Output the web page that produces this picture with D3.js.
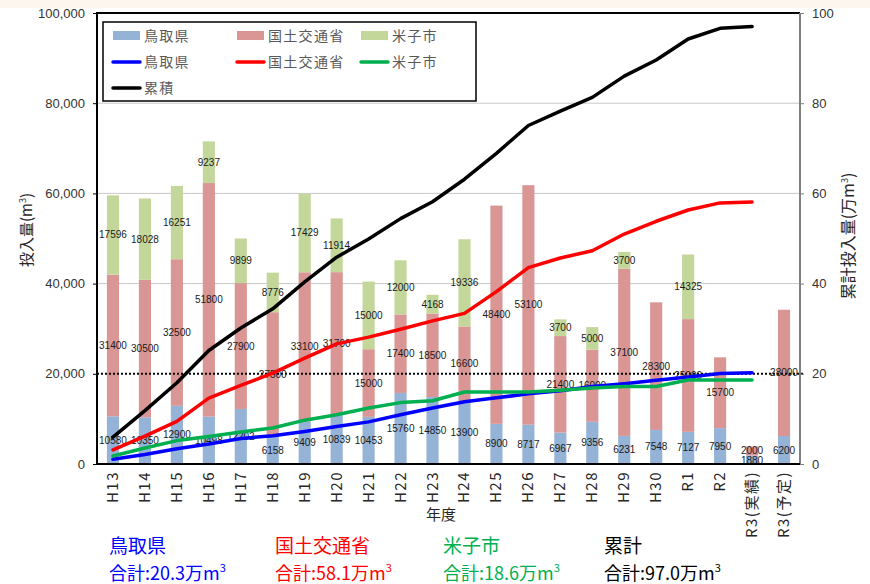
<!DOCTYPE html>
<html>
<head>
<meta charset="utf-8">
<script src="https://cdn.jsdelivr.net/npm/d3@7"></script>
<style>
  body { margin: 0; background: #fff; }
  text { font-family: "Liberation Sans", "Noto Sans CJK JP", sans-serif; }
  .jp { font-family: "Noto Sans CJK JP", sans-serif; }
</style>
</head>
<body>
<div id="chart"></div>
<script>
// years
var categories = ["H13","H14","H15","H16","H17","H18","H19","H20","H21","H22","H23","H24",
                  "H25","H26","H27","H28","H29","H30","R1","R2","R3(実績)","R3(予定)"];
// yearly volumes (m3)
var tottori = [10580,10350,12900,10498,12202,6158,9409,10839,10453,15760,14850,13900,
               8900,8717,6967,9356,6231,7548,7127,7950,1880,6200];
var mlit    = [31400,30500,32500,51800,27900,27500,33100,31700,15000,17400,18500,16600,
               48400,53100,21400,16000,37100,28300,25000,15700,2000,28000];
var yonago  = [17596,18028,16251,9237,9899,8776,17429,11914,15000,12000,4168,19336,
               0,0,3700,5000,3700,0,14325,0,0,0];
var leftTicks = [0,20000,40000,60000,80000,100000];
var rightTicks = [0,20,40,60,80,100];
var lastActual = "R3(実績)";   // cumulative lines stop here

var W = 870, H = 584;
var pL = 97, pR = 800, pT = 13, pB = 464;

var svg = d3.select("#chart").append("svg").attr("width", W).attr("height", H);

svg.append("rect").attr("width", W).attr("height", 8).attr("fill", "#fdf6ef");

var x = d3.scaleBand().domain(categories).range([pL, pR])
    .paddingInner(0.62).paddingOuter(0.31);
var y = d3.scaleLinear().domain([0, 100000]).range([pB, pT]);
var y2 = d3.scaleLinear().domain([0, 100]).range([pB, pT]);

// grid
svg.append("g").selectAll("line").data(leftTicks.filter(function (d) { return d > 20000 && d < 100000; }))
    .enter().append("line")
    .attr("x1", pL).attr("x2", pR)
    .attr("y1", function (d) { return y(d); }).attr("y2", function (d) { return y(d); })
    .attr("stroke", "#c8c8c8").attr("stroke-width", 1);

// stacked bars
var rows = categories.map(function (c, i) {
    return { cat: c, tottori: tottori[i], mlit: mlit[i], yonago: yonago[i] };
});
var keys = ["tottori", "mlit", "yonago"];
var barColors = { tottori: "#95b3d7", mlit: "#d99694", yonago: "#c4d79b" };
var stacked = d3.stack().keys(keys)(rows);

var barG = svg.append("g");
stacked.forEach(function (layer) {
    barG.append("g").selectAll("rect").data(layer).enter().append("rect")
        .attr("x", function (d) { return x(d.data.cat); })
        .attr("width", x.bandwidth())
        .attr("y", function (d) { return y(d[1]); })
        .attr("height", function (d) { return y(d[0]) - y(d[1]); })
        .attr("fill", barColors[layer.key]);
});

// dotted 20,000 line
svg.append("line").attr("x1", pL).attr("x2", pR + 4)
    .attr("y1", y(20000)).attr("y2", y(20000))
    .attr("stroke", "#000").attr("stroke-width", 2).attr("stroke-dasharray", "2,2");

// cumulative lines
function cumulative(arr) {
    var s = 0, out = [];
    for (var i = 0; i <= categories.indexOf(lastActual); i++) {
        s += arr[i];
        out.push({ cat: categories[i], v: s / 10000 });
    }
    return out;
}
var totals = tottori.map(function (d, i) { return d + mlit[i] + yonago[i]; });
var lineSeries = [
    { name: "鳥取県", color: "#0000ff", pts: cumulative(tottori) },
    { name: "国土交通省", color: "#ff0000", pts: cumulative(mlit) },
    { name: "米子市", color: "#00b050", pts: cumulative(yonago) },
    { name: "累積", color: "#000000", pts: cumulative(totals) }
];
var line = d3.line()
    .x(function (d) { return x(d.cat) + x.bandwidth() / 2; })
    .y(function (d) { return y2(d.v); });

// labels (tiny stacked segments get nudged so they don't collide)
var labG = svg.append("g");
stacked.forEach(function (layer, li) {
    labG.append("g").selectAll("text").data(layer.filter(function (d) { return d[1] - d[0] > 0; }))
        .enter().append("text")
        .attr("x", function (d) { return x(d.data.cat) + x.bandwidth() / 2; })
        .attr("y", function (d) {
            var yy = y((d[0] + d[1]) / 2) + 3.5;
            if (d.data.cat === lastActual) yy += li === 0 ? 1 : -1;
            return yy;
        })
        .attr("text-anchor", "middle")
        .attr("font-size", 10)
        .attr("fill", "#1a1a1a")
        .text(function (d) { return d[1] - d[0]; });
});

lineSeries.forEach(function (s) {
    svg.append("path").datum(s.pts).attr("d", line)
        .attr("fill", "none").attr("stroke", s.color)
        .attr("stroke-width", 3.5).attr("stroke-linejoin", "round").attr("stroke-linecap", "round");
});

// axes
svg.append("line").attr("x1", pL).attr("x2", pR).attr("y1", pT).attr("y2", pT)
    .attr("stroke", "#000").attr("stroke-width", 2);
svg.append("line").attr("x1", pR).attr("x2", pR).attr("y1", pT).attr("y2", pB)
    .attr("stroke", "#808080").attr("stroke-width", 2);
svg.append("line").attr("x1", pL).attr("x2", pR).attr("y1", pB).attr("y2", pB)
    .attr("stroke", "#000").attr("stroke-width", 2);
svg.append("line").attr("x1", pL).attr("x2", pL).attr("y1", pT - 1).attr("y2", pB + 1)
    .attr("stroke", "#000").attr("stroke-width", 2);

var yAxis = d3.axisLeft(y).tickValues(leftTicks).tickSize(4).tickFormat(d3.format(","));
var gl = svg.append("g").attr("transform", "translate(" + pL + ",0)").call(yAxis);
gl.select(".domain").remove();
gl.selectAll("line").attr("stroke", "#000");
gl.selectAll("text").attr("font-size", 13).attr("fill", "#333").attr("x", -12);

var yAxis2 = d3.axisRight(y2).tickValues(rightTicks).tickSize(4);
var gr = svg.append("g").attr("transform", "translate(" + pR + ",0)").call(yAxis2);
gr.select(".domain").remove();
gr.selectAll("line").attr("stroke", "#808080");
gr.selectAll("text").attr("font-size", 13).attr("fill", "#333").attr("x", 12);

// x tick labels
svg.append("g").selectAll("text").data(categories).enter().append("text")
    .attr("class", "jp")
    .attr("transform", function (d) {
        return "translate(" + (x(d) + x.bandwidth() / 2 + 5) + "," + 471 + ") rotate(-90)";
    })
    .attr("text-anchor", "end")
    .attr("font-size", 15)
    .attr("letter-spacing", 1.5)
    .attr("fill", "#262626")
    .text(function (d) { return d; });

svg.append("text").attr("class", "jp").attr("x", 441).attr("y", 520)
    .attr("text-anchor", "middle").attr("font-size", 15).attr("fill", "#262626").text("年度");

// axis titles
var lt = svg.append("text").attr("class", "jp")
    .attr("transform", "translate(32,230) rotate(-90)")
    .attr("text-anchor", "middle").attr("font-size", 15).attr("fill", "#262626");
lt.append("tspan").text("投入量(m");
lt.append("tspan").attr("font-size", 9).attr("dy", -6).text("3");
lt.append("tspan").attr("dy", 6).text(")");

var rt = svg.append("text").attr("class", "jp")
    .attr("transform", "translate(854,236) rotate(-90)")
    .attr("text-anchor", "middle").attr("font-size", 16).attr("fill", "#262626");
rt.append("tspan").text("累計投入量(万m");
rt.append("tspan").attr("font-size", 9).attr("dy", -6).text("3");
rt.append("tspan").attr("dy", 6).text(")");

// legend
var lg = svg.append("g");
lg.append("rect").attr("x", 103).attr("y", 22).attr("width", 373).attr("height", 79)
    .attr("fill", "#fff").attr("stroke", "#000").attr("stroke-width", 1.5);
var legCols = [113, 237, 361];
keys.forEach(function (k, i) {
    lg.append("rect").attr("x", legCols[i]).attr("y", 31).attr("width", 27).attr("height", 9)
        .attr("fill", barColors[k]);
    lg.append("text").attr("class", "jp").attr("x", legCols[i] + 31).attr("y", 41)
        .attr("font-size", 14).attr("fill", "#595959").attr("letter-spacing", 1.3)
        .text(lineSeries[i].name);
});
lineSeries.forEach(function (s, i) {
    var cx = legCols[i % 3], cy = i < 3 ? 62 : 88;
    lg.append("line").attr("x1", cx).attr("x2", cx + 27).attr("y1", cy).attr("y2", cy)
        .attr("stroke", s.color).attr("stroke-width", 3.5).attr("stroke-linecap", "round");
    lg.append("text").attr("class", "jp").attr("x", cx + 31).attr("y", cy + 5)
        .attr("font-size", 14).attr("fill", "#595959").attr("letter-spacing", 1.3)
        .text(s.name);
});

// totals below the chart
var sumNames = ["鳥取県", "国土交通省", "米子市", "累計"];
var sumColors = ["#0000ff", "#ff0000", "#00b050", "#000000"];
var sumValues = ["20.3", "58.1", "18.6", "97.0"];
var sumX = [109, 275, 443, 604];
sumNames.forEach(function (n, i) {
    svg.append("text").attr("class", "jp").attr("x", sumX[i]).attr("y", 553)
        .attr("font-size", 19).attr("fill", sumColors[i]).text(n);
    var t = svg.append("text").attr("class", "jp").attr("x", sumX[i]).attr("y", 580)
        .attr("font-size", 18).attr("fill", sumColors[i]);
    t.append("tspan").text("合計:" + sumValues[i] + "万m");
    t.append("tspan").attr("font-size", 11).attr("dy", -8).text("3");
});
</script>
</body>
</html>
